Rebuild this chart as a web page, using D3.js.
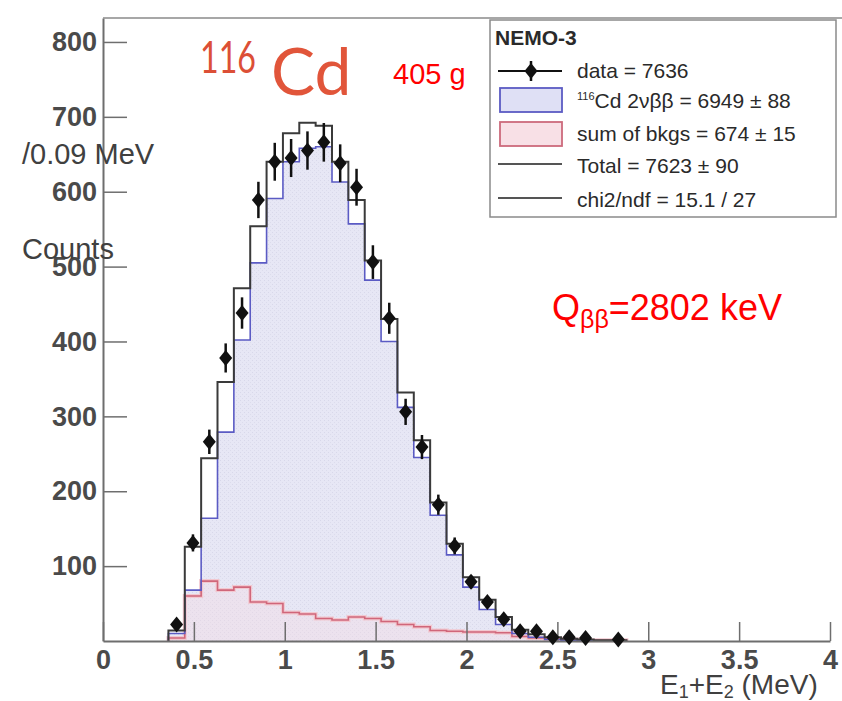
<!DOCTYPE html>
<html><head><meta charset="utf-8">
<script src="https://cdn.jsdelivr.net/npm/d3@7"></script>
<style>body{margin:0;background:#fff} svg{display:block}</style>
</head><body><svg id="c" width="842" height="701"></svg>
<script>
// ---- data ----
const binEdges = [0.36,0.45,0.54,0.63,0.72,0.81,0.90,0.99,1.08,1.17,1.26,1.35,1.44,1.53,1.62,1.71,1.80,1.89,1.98,2.07,2.16,2.25,2.34,2.43,2.52,2.61,2.70,2.79,2.88];
const dataCounts  = [22,131,266,378,438,589,640,645,655,666,638,606,506,431,306,259,182,127,79,52,29,13,13,5,5,4,0,2];
const cd2nuCounts = [10,68,164,279,402,505,591,640,658,660,613,557,482,400,312,245,168,115,72,42,22,10,5,2,1,1,0,0];
const bkgCounts   = [4,60,80,68,72,52,50,38,36,30,28,32,30,26,22,19,14,13,12,12,11,6,4,3,2,1,1,1];
const totalCounts = [14,126,244,346,471,554,640,678,692,688,640,589,508,430,332,268,185,130,85,55,32,15,9,5,3,2,1,1];
const xTickValues = [0,0.5,1,1.5,2,2.5,3,3.5,4];
const xTickLabels = ["0","0.5","1","1.5","2","2.5","3","3.5","4"];
const xMinorTicks = [0.1,0.2,0.3,0.4,0.6,0.7,0.8,0.9,1.1,1.2,1.3,1.4,1.6,1.7,1.8,1.9,2.1,2.2,2.3,2.4,2.6,2.7,2.8,2.9,3.1,3.2,3.3,3.4,3.6,3.7,3.8,3.9];
const yTickValues = [100,200,300,400,500,600,700,800];
const yTickLabels = ["100","200","300","400","500","600","700","800"];
const yMinorTicks = [20,40,60,80,120,140,160,180,220,240,260,280,320,340,360,380,420,440,460,480,520,540,560,580,620,640,660,680,720,740,760,780,820];
const legendTitle = "NEMO-3";
const legendLabels = ["data = 7636", "Cd 2\u03BD\u03B2\u03B2 = 6949 \u00B1 88", "sum of bkgs = 674 \u00B1 15", "Total = 7623 \u00B1 90", "chi2/ndf = 15.1 / 27"];

// ---- layout ----
const svg = d3.select("#c");
const x = d3.scaleLinear().domain([0,4]).range([103,830]);
const y = d3.scaleLinear().domain([0,832]).range([641,18]);

const defs = svg.append("defs");
const pat = defs.append("pattern").attr("id","dots").attr("width",4).attr("height",4).attr("patternUnits","userSpaceOnUse");
pat.append("rect").attr("width",4).attr("height",4).attr("fill","#e7e7f5");
pat.append("rect").attr("x",0).attr("y",0).attr("width",1).attr("height",1).attr("fill","#d8d8ea");
pat.append("rect").attr("x",2).attr("y",2).attr("width",1).attr("height",1).attr("fill","#dcdcec");

function stepPoints(counts){
  const pts = [[binEdges[0],0]];
  counts.forEach((c,i)=>pts.push([binEdges[i],c]));
  pts.push([binEdges[binEdges.length-1], counts[counts.length-1]]);
  pts.push([binEdges[binEdges.length-1], 0]);
  return pts;
}
const line = d3.line().x(d=>x(d[0])).y(d=>y(d[1])).curve(d3.curveStepAfter);
const area = d3.area().x(d=>x(d[0])).y0(y(0)).y1(d=>y(d[1])).curve(d3.curveStepAfter);

// fills
svg.append("path").attr("d",area(stepPoints(cd2nuCounts))).attr("fill","url(#dots)");
svg.append("path").attr("d",area(stepPoints(bkgCounts))).attr("fill","#f6dbe2").attr("fill-opacity",0.35);
// lines
svg.append("path").attr("d",line(stepPoints(bkgCounts))).attr("fill","none").attr("stroke","#f2c8d0").attr("stroke-width",4);
svg.append("path").attr("d",line(stepPoints(bkgCounts))).attr("fill","none").attr("stroke","#d0667a").attr("stroke-width",1.6);
svg.append("path").attr("d",line(stepPoints(cd2nuCounts))).attr("fill","none").attr("stroke","#5b5bc4").attr("stroke-width",1.6);
svg.append("path").attr("d",line(stepPoints(totalCounts))).attr("fill","none").attr("stroke","#3a3a3a").attr("stroke-width",2);

// axes
const axisColor = "#6e6e6e";
const gx = svg.append("g").attr("transform",`translate(0,${y(0)})`);
gx.call(d3.axisBottom(x).tickValues(xMinorTicks).tickFormat("").tickSizeInner(-9).tickSizeOuter(0));
gx.call(d3.axisBottom(x).tickValues(xTickValues).tickFormat((d,i)=>xTickLabels[i]).tickSizeInner(-19).tickSizeOuter(0).tickPadding(9));
const gy = svg.append("g").attr("transform",`translate(${x(0)},0)`);
gy.call(d3.axisLeft(y).tickValues(yMinorTicks).tickFormat("").tickSizeInner(-12).tickSizeOuter(0));
gy.call(d3.axisLeft(y).tickValues(yTickValues).tickFormat((d,i)=>yTickLabels[i]).tickSizeInner(-24).tickSizeOuter(0).tickPadding(6));
svg.selectAll(".domain").attr("stroke",axisColor).attr("stroke-width",2);
svg.selectAll(".tick line").attr("stroke",axisColor).attr("stroke-width",1.5);
svg.selectAll(".tick text").attr("font-family","Liberation Sans, Arial, sans-serif").attr("font-weight","bold").attr("font-size",27).attr("fill","#4a4a4a");
// top frame line
svg.append("line").attr("x1",x(0)).attr("x2",842).attr("y1",y(832)).attr("y2",y(832)).attr("stroke","#8a8a8a").attr("stroke-width",1.5);

// data points
const pts = dataCounts.map((c,i)=>({xc:(binEdges[i]+binEdges[i+1])/2, c})).filter(d=>d.c>0);
svg.append("g").selectAll("line").data(pts).join("line")
  .attr("x1",d=>x(d.xc)).attr("x2",d=>x(d.xc))
  .attr("y1",d=>y(d.c+Math.sqrt(d.c))).attr("y2",d=>y(Math.max(0,d.c-Math.sqrt(d.c))))
  .attr("stroke","#111").attr("stroke-width",2.5);
const diamond = "M0,-8L6.5,0L0,8L-6.5,0Z";
svg.append("g").selectAll("path").data(pts).join("path")
  .attr("transform",d=>`translate(${x(d.xc)},${y(d.c)})`).attr("d",diamond).attr("fill","#111");

// legend
const lg = svg.append("g");
lg.append("rect").attr("x",490).attr("y",20).attr("width",346).attr("height",197).attr("fill","#fff").attr("stroke","#8a8a8a").attr("stroke-width",1.5);
const tf = "Liberation Sans, Arial, sans-serif";
lg.append("text").attr("x",495).attr("y",45).text(legendTitle).attr("font-family",tf).attr("font-weight","bold").attr("font-size",21).attr("fill","#2a2a2a");
const rowY = [71,101,134,166,200];
// data symbol
lg.append("line").attr("x1",498).attr("x2",562).attr("y1",rowY[0]).attr("y2",rowY[0]).attr("stroke","#111").attr("stroke-width",2);
lg.append("line").attr("x1",531).attr("x2",531).attr("y1",rowY[0]-10).attr("y2",rowY[0]+10).attr("stroke","#111").attr("stroke-width",2.5);
lg.append("path").attr("transform",`translate(531,${rowY[0]})`).attr("d",diamond).attr("fill","#111");
lg.append("rect").attr("x",500).attr("y",88).attr("width",62).attr("height",24).attr("fill","#dfe0f5").attr("stroke","#5b5bc4").attr("stroke-width",1.8);
lg.append("rect").attr("x",500).attr("y",122).attr("width",62).attr("height",24).attr("fill","#f8e0e6").attr("stroke","#cc6a7c").attr("stroke-width",1.8);
lg.append("line").attr("x1",498).attr("x2",562).attr("y1",rowY[3]-2).attr("y2",rowY[3]-2).attr("stroke","#555").attr("stroke-width",2);
lg.append("line").attr("x1",498).attr("x2",562).attr("y1",rowY[4]-2).attr("y2",rowY[4]-2).attr("stroke","#555").attr("stroke-width",2);
legendLabels.forEach((t,i)=>{
  const tx = lg.append("text").attr("x",577).attr("y",rowY[i]+7).attr("font-family",tf).attr("font-size",21).attr("fill","#2a2a2a");
  if(i===1){
    tx.append("tspan").attr("font-size",11).attr("dy",-8).text("116");
    tx.append("tspan").attr("dy",8).text(t);
  } else tx.text(t);
});

// annotations
const ann = svg.append("g");
ann.append("text").attr("x",200).attr("y",73).attr("font-family","Lato, Open Sans, sans-serif").attr("font-size",44)
  .attr("textLength",56).attr("lengthAdjust","spacingAndGlyphs").attr("fill","#dc4f36").text("116");
ann.append("text").attr("x",271).attr("y",95).attr("font-family","Lato, Open Sans, sans-serif").attr("font-size",66)
  .attr("fill","#e1553a").text("Cd");
ann.append("text").attr("x",393).attr("y",84).attr("font-family",tf).attr("font-size",29).attr("fill","#ff0000").text("405 g");
const q = ann.append("text").attr("x",552).attr("y",320).attr("font-family",tf).attr("font-size",36).attr("fill","#ff0000");
q.append("tspan").text("Q");
q.append("tspan").attr("font-size",25).attr("dy",8).text("\u03B2\u03B2");
q.append("tspan").attr("dy",-8).text("=2802 keV");
ann.append("text").attr("x",22).attr("y",164).attr("font-family",tf).attr("font-size",29).attr("fill","#404040").text("/0.09 MeV");
ann.append("text").attr("x",22).attr("y",259).attr("font-family",tf).attr("font-size",29).attr("fill","#404040").text("Counts");
const xl = ann.append("text").attr("x",660).attr("y",694).attr("font-family",tf).attr("font-size",28).attr("fill","#404040");
xl.append("tspan").text("E");
xl.append("tspan").attr("font-size",18).attr("dy",4).text("1");
xl.append("tspan").attr("dy",-4).text("+E");
xl.append("tspan").attr("font-size",18).attr("dy",4).text("2");
xl.append("tspan").attr("dy",-4).text(" (MeV)");
</script></body></html>
